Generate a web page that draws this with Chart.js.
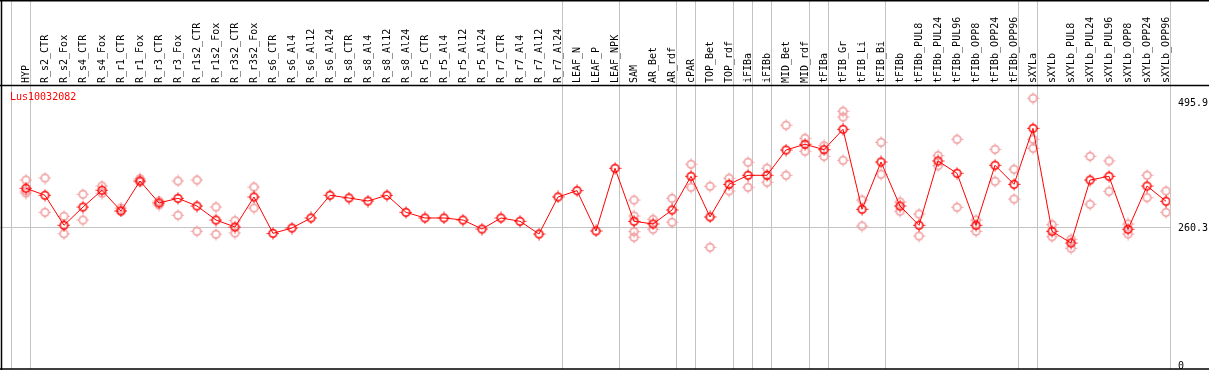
<!DOCTYPE html>
<html>
<head>
<meta charset="utf-8">
<script src="https://cdn.jsdelivr.net/npm/chart.js@4/dist/chart.umd.min.js"></script>
<style>
  html, body { margin: 0; padding: 0; background: #ffffff; }
  #wrap { width: 1209px; height: 370px; }
</style>
</head>
<body>
<div id="wrap"><canvas id="efpChart" width="1209" height="370"></canvas></div>
<script>
// Sample names (top axis)
const sampleLabels = [
  "HYP", "R_s2_CTR", "R_s2_Fox", "R_s4_CTR", "R_s4_Fox", "R_r1_CTR", "R_r1_Fox",
  "R_r3_CTR", "R_r3_Fox", "R_r1s2_CTR", "R_r1s2_Fox", "R_r3s2_CTR", "R_r3s2_Fox",
  "R_s6_CTR", "R_s6_Al4", "R_s6_Al12", "R_s6_Al24", "R_s8_CTR", "R_s8_Al4",
  "R_s8_Al12", "R_s8_Al24", "R_r5_CTR", "R_r5_Al4", "R_r5_Al12", "R_r5_Al24",
  "R_r7_CTR", "R_r7_Al4", "R_r7_Al12", "R_r7_Al24", "LEAF_N", "LEAF_P", "LEAF_NPK",
  "SAM", "AR_Bet", "AR_rdf", "cPAR", "TOP_Bet", "TOP_rdf", "iFIBa", "iFIBb",
  "MID_Bet", "MID_rdf", "tFIBa", "tFIB_Gr", "tFIB_Li", "tFIB_Bi", "tFIBb",
  "tFIBb_PUL8", "tFIBb_PUL24", "tFIBb_PUL96", "tFIBb_OPP8", "tFIBb_OPP24", "tFIBb_OPP96",
  "sXYLa", "sXYLb", "sXYLb_PUL8", "sXYLb_PUL24", "sXYLb_PUL96", "sXYLb_OPP8",
  "sXYLb_OPP24", "sXYLb_OPP96"
];

// Mean expression per sample
const meanValues = [
  335.1, 321.9, 265.3, 299.8, 331.3, 292.3, 348.9, 307.4, 316.2, 301.7,
  275.3, 262.1, 318.7, 250.2, 260.2, 279.1, 321.9, 316.8, 311.1, 321.9,
  289.8, 279.1, 279.1, 275.3, 258.3, 279.1, 272.9, 248.9, 318.7, 330.6,
  254.6, 372.8, 272.9, 267.8, 294.2, 357.7, 281.0, 342.6, 359.6, 359.6,
  407.3, 418.1, 407.9, 446.4, 295.5, 384.7, 301.7, 265.3, 386.6, 363.4,
  265.3, 378.5, 342.6, 448.2, 254.0, 231.9, 350.7, 357.7, 257.8, 339.4, 310.6
];

// Individual replicates per sample (hidden ones sit under the mean)
const replicateValues = [
  [350.7, 330.0, 326.2], [354.5, 289.8], [282.3, 249.5], [323.8, 275.3],
  [339.4, 325.7], [297.9, 292.3], [353.2, 347.0], [311.1, 303.6],
  [348.9, 284.2], [350.7, 254.0], [299.8, 248.4], [274.0, 250.8], [337.5, 297.9],
  [], [], [], [], [], [], [], [], [], [], [], [], [], [], [], [], [], [], [],
  [313.0, 282.9, 253.3, 242.7], [276.6, 257.8], [316.2, 271.0], [380.4, 337.0],
  [338.9, 223.8], [354.0, 330.0], [384.1, 337.0], [372.8, 346.4],
  [453.9, 359.6], [429.4, 404.9], [415.4, 395.4], [480.3, 469.5, 387.9],
  [313.0, 264.0], [421.8, 361.5], [309.3, 291.7], [286.6, 245.1],
  [396.6, 377.7], [427.5, 299.3], [275.3, 254.0], [408.6, 348.3], [370.9, 314.9],
  [504.8, 427.5, 410.5], [266.5, 243.8], [238.9, 222.0], [395.4, 304.9],
  [386.6, 329.4], [267.8, 248.9], [359.6, 317.4], [330.0, 289.8]
];

// Separators drawn just after these sample indices
const groupBreaks = [-1, 0, 28, 31, 34, 35, 37, 38, 39, 41, 42, 45, 52, 53, 60];

const yTickValues = [0, 260.3, 495.9];
const geneId = "Lus10032082";

const RED = "#ff0000";
const PINK = "#f0999b";
const GRID = "#c4c4c4";
const MONO = "'DejaVu Sans Mono', monospace";

// circle marker with little ticks at the four sides
function makeMarker(color) {
  const c = document.createElement("canvas");
  c.width = 13;
  c.height = 13;
  const g = c.getContext("2d");
  g.strokeStyle = color;
  g.lineWidth = 1.5;
  g.beginPath();
  g.arc(6.5, 6.5, 3.8, 0, Math.PI * 2);
  g.stroke();
  g.lineWidth = 1;
  g.beginPath();
  g.moveTo(6.5, 2.5); g.lineTo(6.5, 0.5);
  g.moveTo(6.5, 10.5); g.lineTo(6.5, 12.5);
  g.moveTo(2.5, 6.5); g.lineTo(0.5, 6.5);
  g.moveTo(10.5, 6.5); g.lineTo(12.5, 6.5);
  g.stroke();
  return c;
}

const meanPoints = meanValues.map((v, i) => ({ x: i, y: v }));
const replicatePoints = [];
replicateValues.forEach((reps, i) => {
  reps.forEach((v) => replicatePoints.push({ x: i, y: v }));
});

// frame, group separators and gene id
const framePlugin = {
  id: "frame",
  beforeDatasetsDraw(chart) {
    const ctx = chart.ctx;
    const xs = chart.scales.x;
    const h = chart.height;
    const w = chart.width;
    ctx.save();
    ctx.strokeStyle = GRID;
    ctx.lineWidth = 1;
    groupBreaks.forEach((b) => {
      const px = Math.floor(xs.getPixelForValue(b + 0.23)) + 0.5;
      ctx.beginPath();
      ctx.moveTo(px, 0);
      ctx.lineTo(px, h);
      ctx.stroke();
    });
    ctx.strokeStyle = "#000000";
    ctx.lineWidth = 1.5;
    ctx.beginPath();
    ctx.moveTo(1.5, 0);
    ctx.lineTo(1.5, h);
    ctx.moveTo(0, 0.75);
    ctx.lineTo(w, 0.75);
    ctx.moveTo(0, 85.5);
    ctx.lineTo(w, 85.5);
    ctx.moveTo(0, h - 1);
    ctx.lineTo(w, h - 1);
    ctx.stroke();
    ctx.fillStyle = RED;
    ctx.font = "10px " + MONO;
    ctx.textBaseline = "middle";
    ctx.textAlign = "left";
    ctx.fillText(geneId, 10, 97.5);
    ctx.restore();
  },
};

new Chart(document.getElementById("efpChart"), {
  type: "line",
  data: {
    datasets: [
      {
        label: "mean",
        data: meanPoints,
        borderColor: RED,
        borderWidth: 1,
        pointStyle: makeMarker(RED),
        pointRadius: 5,
        tension: 0,
        order: 0,
      },
      {
        label: "replicates",
        data: replicatePoints,
        showLine: false,
        pointStyle: makeMarker(PINK),
        pointRadius: 5,
        order: 1,
      },
    ],
  },
  options: {
    responsive: false,
    animation: false,
    devicePixelRatio: 1,
    layout: { padding: 0, autoPadding: false },
    plugins: {
      legend: { display: false },
      tooltip: { enabled: false },
    },
    scales: {
      x: {
        type: "linear",
        position: "top",
        min: -1.368,
        max: 60.21,
        afterBuildTicks: (scale) => {
          scale.ticks = sampleLabels.map((_, i) => ({ value: i }));
        },
        afterFit: (scale) => {
          scale.height = 86;
          scale.paddingLeft = 0;
          scale.paddingRight = 0;
        },
        ticks: {
          autoSkip: false,
          minRotation: 90,
          maxRotation: 90,
          padding: 3,
          labelOffset: 12,
          color: "#000000",
          font: { family: MONO, size: 10 },
          callback: (value) => sampleLabels[value],
        },
        grid: { display: false, drawTicks: false },
        border: { display: false },
      },
      y: {
        position: "right",
        min: 0,
        max: 528,
        afterBuildTicks: (scale) => {
          scale.ticks = yTickValues.map((v) => ({ value: v }));
        },
        afterFit: (scale) => {
          scale.width = 39;
          scale.paddingTop = 0;
          scale.paddingBottom = 4;
        },
        ticks: {
          padding: 8,
          color: "#000000",
          font: { family: MONO, size: 10 },
          callback: (value) => String(value),
        },
        grid: {
          drawTicks: false,
          color: (ctx) => (ctx.tick && ctx.tick.value === 260.3 ? GRID : "rgba(0,0,0,0)"),
        },
        border: { display: false },
      },
    },
  },
  plugins: [framePlugin],
});
</script>
</body>
</html>
